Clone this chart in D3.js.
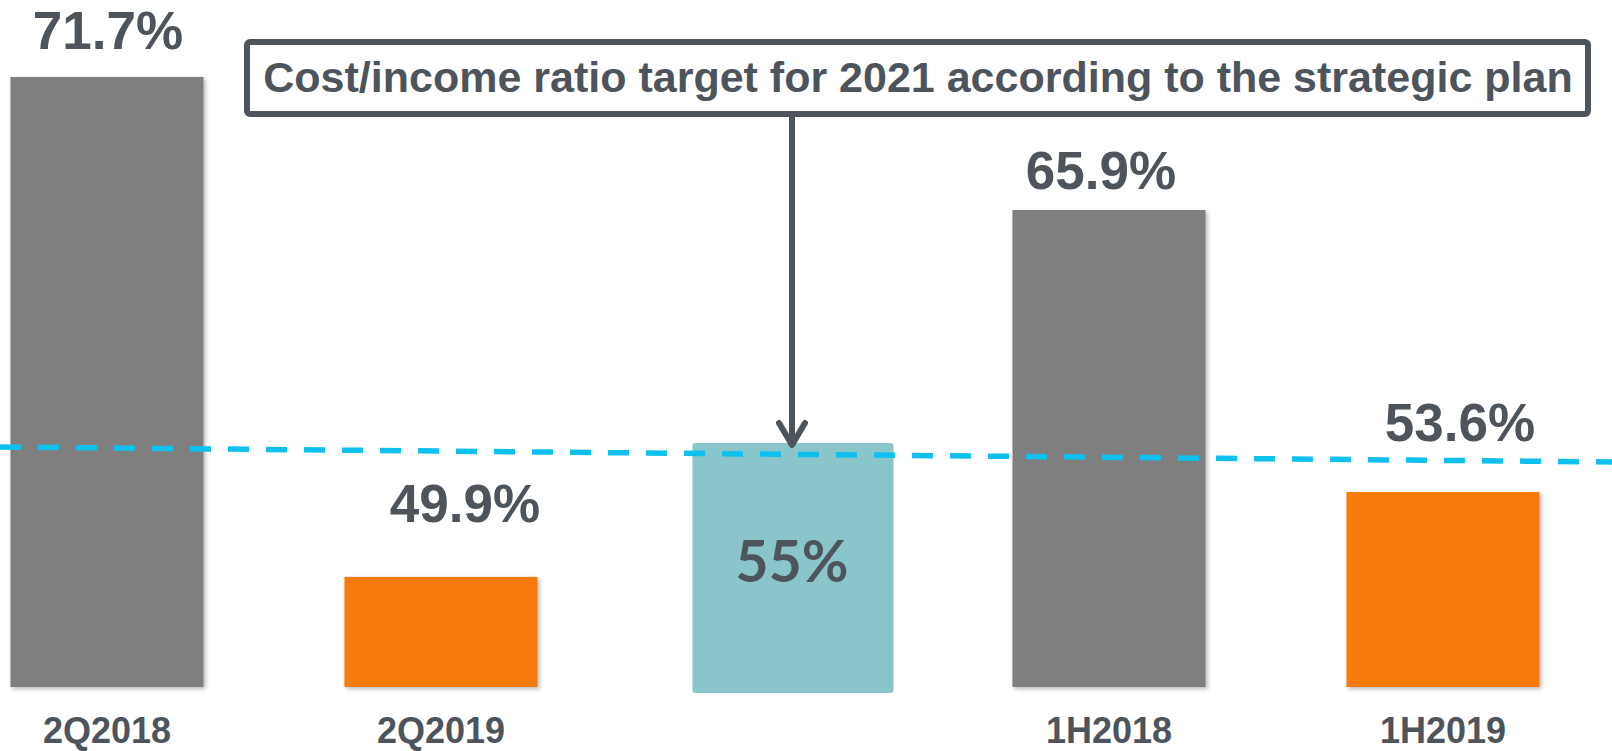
<!DOCTYPE html>
<html>
<head>
<meta charset="utf-8">
<script src="https://cdn.jsdelivr.net/npm/d3@7"></script>
<style>
  html, body { margin: 0; padding: 0; background: #fff; overflow: hidden; }
  svg { display: block; }
</style>
</head>
<body>
<script>
// data
const categories = ['2Q2018', '2Q2019', 'target', '1H2018', '1H2019'];
const values = [71.7, 49.9, 55, 65.9, 53.6];
const labels = ['71.7%', '49.9%', '55%', '65.9%', '53.6%'];
const barKinds = ['past', 'now', 'target', 'past', 'now'];
const targetValue = 55;
const noteText = 'Cost/income ratio target for 2021 according to the strategic plan';

// layout tweaks for the value labels (px), not data
const labelDx = [1, 24, 0, -8, 17];
const labelLift = [28, 55, 0, 21, 51];

const W = 1612, H = 751;
const ink = '#4d545b';
const colours = { past: '#7f7f7f', now: '#f77a07', target: '#8bc5cc' };

const svg = d3.select('body').append('svg')
    .attr('width', W)
    .attr('height', H);

const defs = svg.append('defs');
defs.append('filter')
    .attr('id', 'shade')
    .attr('x', '-5%').attr('y', '-5%').attr('width', '115%').attr('height', '115%')
  .append('feDropShadow')
    .attr('dx', 2).attr('dy', 2)
    .attr('stdDeviation', 2)
    .attr('flood-color', '#000')
    .attr('flood-opacity', 0.28);

const x = d3.scaleBand()
    .domain(categories)
    .range([-60, 1610])
    .paddingInner(0.422)
    .paddingOuter(0.211);

const y = d3.scaleLinear()
    .domain([45.1, 71.7])
    .range([687, 77]);

const rows = categories.map((c, i) => ({
  cat: c, value: values[i], label: labels[i], kind: barKinds[i], i: i
}));

// ordinary bars
const bars = rows.filter(d => d.kind !== 'target');
svg.append('g').selectAll('rect')
  .data(bars)
  .join('rect')
    .attr('x', d => x(d.cat))
    .attr('y', d => y(d.value))
    .attr('width', x.bandwidth())
    .attr('height', d => y(45.1) - y(d.value))
    .attr('fill', d => colours[d.kind])
    .attr('filter', 'url(#shade)');

// the target block in the middle
const t = rows.find(d => d.kind === 'target');
svg.append('rect')
    .attr('x', x(t.cat) + 14)
    .attr('y', y(t.value) - 17)
    .attr('width', x.bandwidth() + 8)
    .attr('height', y(45.1) + 6 - (y(t.value) - 17))
    .attr('rx', 3)
    .attr('fill', colours.target);

svg.append('text')
    .attr('x', x(t.cat) + x.bandwidth() / 2 + 17)
    .attr('y', 582)
    .attr('text-anchor', 'middle')
    .attr('font-family', 'Lato, "Open Sans", sans-serif')
    .attr('font-weight', 700)
    .attr('font-size', 57)
    .attr('fill', ink)
    .text(t.label);

// dashed target line
svg.append('line')
    .attr('x1', 0)
    .attr('y1', y(targetValue) - 13)
    .attr('x2', W)
    .attr('y2', y(targetValue) + 2)
    .attr('stroke', '#0fc0ee')
    .attr('stroke-width', 5.5)
    .attr('stroke-dasharray', '21 17');

// value labels
svg.append('g').selectAll('text')
  .data(bars)
  .join('text')
    .attr('x', d => x(d.cat) + x.bandwidth() / 2 + labelDx[d.i])
    .attr('y', d => y(d.value) - labelLift[d.i])
    .attr('text-anchor', 'middle')
    .attr('font-family', '"Liberation Sans", Arial, sans-serif')
    .attr('font-weight', 700)
    .attr('font-size', 53)
    .attr('fill', ink)
    .text(d => d.label);

// category labels
svg.append('g').selectAll('text')
  .data(bars)
  .join('text')
    .attr('x', d => x(d.cat) + x.bandwidth() / 2)
    .attr('y', 743)
    .attr('text-anchor', 'middle')
    .attr('font-family', '"Liberation Sans", Arial, sans-serif')
    .attr('font-weight', 700)
    .attr('font-size', 36)
    .attr('fill', ink)
    .text(d => d.cat);

// annotation box and arrow
svg.append('rect')
    .attr('x', 247)
    .attr('y', 42)
    .attr('width', 1341)
    .attr('height', 72)
    .attr('rx', 3)
    .attr('fill', '#fff')
    .attr('stroke', ink)
    .attr('stroke-width', 6);

svg.append('text')
    .attr('x', 918)
    .attr('y', 92)
    .attr('text-anchor', 'middle')
    .attr('font-family', '"Liberation Sans", Arial, sans-serif')
    .attr('font-weight', 700)
    .attr('font-size', 43)
    .attr('fill', ink)
    .text(noteText);

const ax = 792, tipY = y(t.value) - 15;
svg.append('line')
    .attr('x1', ax).attr('y1', 117)
    .attr('x2', ax).attr('y2', tipY - 2)
    .attr('stroke', ink)
    .attr('stroke-width', 6);

svg.append('path')
    .attr('d', d3.line()([[ax - 13, tipY - 22], [ax, tipY], [ax + 13, tipY - 22]]))
    .attr('fill', 'none')
    .attr('stroke', ink)
    .attr('stroke-width', 6)
    .attr('stroke-linecap', 'round')
    .attr('stroke-linejoin', 'round');
</script>
</body>
</html>
